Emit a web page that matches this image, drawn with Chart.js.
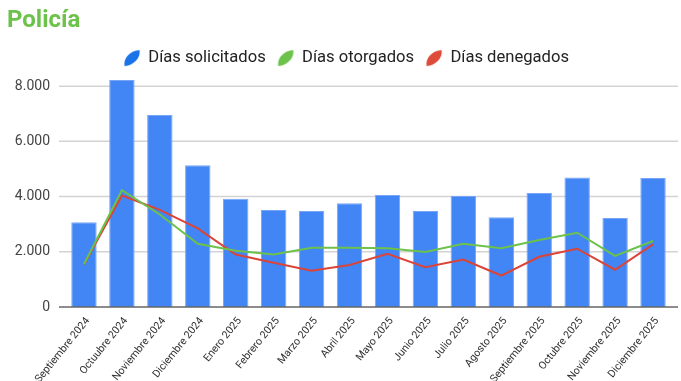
<!DOCTYPE html>
<html><head><meta charset="utf-8">
<style>html,body{margin:0;padding:0;background:#fff;}#wrap{width:681px;height:381px;position:relative;}</style>
<script src="https://cdn.jsdelivr.net/npm/chart.js@4"></script>
</head><body><div id="wrap"><canvas id="c" width="681" height="381"></canvas></div>
<script>
const categories = ['Septiembre 2024','Octuubre 2024','Noviembre 2024','Diciembre 2024','Enero 2025','Febrero 2025','Marzo 2025','Abril 2025','Mayo 2025','Junio 2025','Julio 2025','Agosto 2025','Septiembre 2025','Octubre 2025','Noviembre 2025','Diciembre 2025'];
const solicitados = [3070, 8220, 6950, 5130, 3920, 3510, 3480, 3760, 4060, 3480, 4020, 3250, 4130, 4690, 3220, 4670];
const otorgados = [1550, 4230, 3350, 2290, 2040, 1900, 2150, 2150, 2130, 1990, 2290, 2130, 2430, 2690, 1850, 2390];
const denegados = [1540, 4040, 3520, 2850, 1900, 1600, 1310, 1520, 1930, 1440, 1720, 1140, 1820, 2110, 1350, 2270];
const seriesNames = ['Días solicitados', 'Días otorgados', 'Días denegados'];
const tickValues = [0, 2000, 4000, 6000, 8000];

function leaf(color) {
  const c = document.createElement('canvas');
  c.width = 18; c.height = 18;
  const x = c.getContext('2d');
  x.fillStyle = color;
  x.beginPath();
  x.moveTo(1.5, 17);
  x.bezierCurveTo(0, 9, 7, 1.5, 16.5, 1);
  x.bezierCurveTo(18, 9, 10, 16.5, 1.5, 17);
  x.closePath();
  x.fill();
  return c;
}
const icons = [leaf('#1a73e8'), leaf('#6cc24a'), leaf('#dd4b39')];
const fmt = v => String(v).replace(/\B(?=(\d{3})+(?!\d))/g, '.');

const gridPlugin = {
  id: 'grid',
  afterLayout(chart) {
    const lg = chart.legend;
    if (lg) { lg.left += 7; lg.right += 7; lg.top -= 2; lg.bottom -= 2; }
  },
  beforeDatasetsDraw(chart) {
    const {ctx, chartArea: a, scales: {y}} = chart;
    ctx.save();
    ctx.strokeStyle = '#d3d3d3';
    ctx.lineWidth = 1.5;
    y.ticks.forEach(t => {
      if (t.value === 0) return;
      const py = y.getPixelForValue(t.value);
      ctx.beginPath(); ctx.moveTo(a.left - 6, py); ctx.lineTo(a.right + 6, py); ctx.stroke();
    });
    ctx.restore();
  },
  afterDatasetsDraw(chart) {
    const {ctx, chartArea: a, scales: {y}} = chart;
    const py = y.getPixelForValue(0);
    ctx.save();
    ctx.strokeStyle = '#666';
    ctx.lineWidth = 1.5;
    ctx.beginPath(); ctx.moveTo(a.left - 6, py); ctx.lineTo(a.right + 6, py); ctx.stroke();
    ctx.restore();
  }
};

new Chart(document.getElementById('c'), {
  type: 'bar',
  data: {
    labels: categories,
    datasets: [
      { type: 'bar', label: seriesNames[0], data: solicitados, backgroundColor: '#4285f4', borderColor: '#79a5f6', borderWidth: 1, categoryPercentage: 1, barPercentage: 0.67, order: 2 },
      { type: 'line', label: seriesNames[1], data: otorgados, borderColor: '#6cc24a', backgroundColor: '#6cc24a', borderWidth: 2, pointRadius: 0, tension: 0, fill: false, order: 0 },
      { type: 'line', label: seriesNames[2], data: denegados, borderColor: '#db4437', backgroundColor: '#db4437', borderWidth: 2, pointRadius: 0, tension: 0, fill: false, order: 1 }
    ]
  },
  options: {
    responsive: false,
    animation: false,
    devicePixelRatio: 1,
    layout: { padding: { left: 7, right: 9, top: 0, bottom: 0 } },
    plugins: {
      tooltip: { enabled: false },
      title: { display: true, text: 'Policía', align: 'start', color: '#6cc24a', font: { family: 'Roboto', size: 24, weight: 'bold' }, padding: { top: 7, bottom: 4 } },
      legend: {
        position: 'top', maxHeight: 43,
        labels: {
          usePointStyle: true, boxWidth: 16, boxHeight: 16, padding: 12, color: '#222',
          font: { family: 'Roboto', size: 16.6 },
          generateLabels(chart) {
            const items = Chart.defaults.plugins.legend.labels.generateLabels(chart);
            items.forEach(i => { i.pointStyle = icons[i.datasetIndex]; });
            return items.sort((a, b) => a.datasetIndex - b.datasetIndex);
          }
        }
      }
    },
    scales: {
      x: {
        grid: { display: false, drawTicks: false }, border: { display: false },
        ticks: { autoSkip: false, maxRotation: 51, minRotation: 51, color: '#333', font: { family: 'Roboto', size: 10.6 }, padding: 8, labelOffset: 4 },
        afterFit(s) { s.height = 74; }
      },
      y: {
        min: 0, max: 8280,
        grid: { display: false, drawTicks: false }, border: { display: false },
        ticks: { padding: 15, color: '#444', font: { family: 'Roboto', size: 14 }, callback: v => fmt(v) },
        afterBuildTicks(s) { s.ticks = tickValues.map(v => ({ value: v })); },
        afterFit(s) { s.width = 58; }
      }
    }
  },
  plugins: [gridPlugin]
});
</script>
</body></html>
